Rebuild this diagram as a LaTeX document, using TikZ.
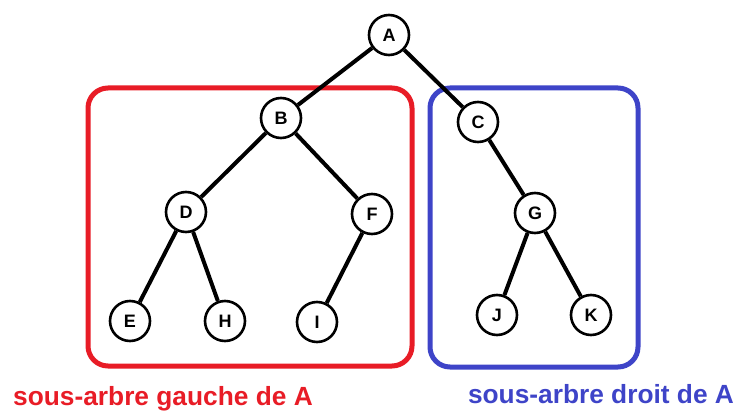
\documentclass[tikz,border=0pt]{standalone}
\usepackage{fontspec}
\setmainfont{Liberation Sans}
\definecolor{subred}{RGB}{232,28,38}
\definecolor{subblue}{RGB}{62,68,200}
\begin{document}
\begin{tikzpicture}[x=1pt,y=-1pt,
  vertex/.style={circle,draw=black,line width=2.6pt,fill=white,minimum size=40pt,inner sep=0pt,
    font=\fontsize{18}{18}\selectfont\bfseries},
  branch/.style={line width=4pt,black},
  subtree/.style={line width=5pt,rounded corners=20pt},
  caption/.style={anchor=base,font=\fontsize{26.3}{27}\selectfont\bfseries}]
\useasboundingbox (0,0) rectangle (737,412);

% subtree frames
\draw[subtree,subred] (88,88) rectangle (412,366);
\draw[subtree,subblue] (430,88) rectangle (638,367);

% tree vertices
\node[vertex] (A) at (389,35) {A};
\node[vertex] (B) at (281,118) {B};
\node[vertex] (C) at (478,122) {C};
\node[vertex] (D) at (186,212) {D};
\node[vertex] (F) at (372,214) {F};
\node[vertex] (G) at (535,213) {G};
\node[vertex] (E) at (130,321) {E};
\node[vertex] (H) at (225,321) {H};
\node[vertex] (I) at (317,322) {I};
\node[vertex] (J) at (497,315) {J};
\node[vertex] (K) at (591,315) {K};

% branches
\draw[branch] (A) -- (B);
\draw[branch] (A) -- (C);
\draw[branch] (B) -- (D);
\draw[branch] (B) -- (F);
\draw[branch] (D) -- (E);
\draw[branch] (D) -- (H);
\draw[branch] (F) -- (I);
\draw[branch] (C) -- (G);
\draw[branch] (G) -- (J);
\draw[branch] (G) -- (K);

% captions
\node[caption,text=subred] (capL) at (163,405) {sous-arbre gauche de A};
\node[caption,text=subblue] (capR) at (601,403) {sous-arbre droit de A};
\end{tikzpicture}
\end{document}
